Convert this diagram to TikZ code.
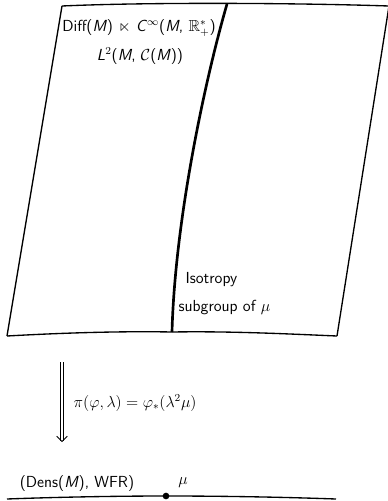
\documentclass[tikz,border=0pt]{standalone}
\usepackage{amssymb}
\usetikzlibrary{arrows.meta}
\newcommand{\sfit}[1]{\textsf{\itshape #1}}
\begin{document}
\begin{tikzpicture}[x=0.75pt,y=-0.75pt,
    lbl/.style={font=\sffamily\large, inner sep=1pt},
    edge/.style={line width=1pt},
    fibre/.style={line width=2pt},
    proj/.style={double, double distance=1.6pt, line width=0.6pt, -{Straight Barb[length=4pt,width=8pt]}}
]
\useasboundingbox (0,0) rectangle (388,501);

% the total space
\coordinate (tl) at (62,6);
\coordinate (tr) at (389,6);
\coordinate (bl) at (7,336);
\coordinate (br) at (337,336);
\coordinate (ftop) at (227,4);
\coordinate (fbot) at (172,332);
\draw[edge] (tl) .. controls (150,2) and (300,3) .. (tr);
\draw[edge] (tl) -- (bl);
\draw[edge] (tr) -- (br);
\draw[edge] (bl) .. controls (60,333) and (120,331) .. (fbot) .. controls (230,331) and (290,334) .. (br);
\draw[fibre] (ftop) .. controls (205,80) and (175,220) .. (fbot);

\node[lbl] (group) at (139,28) {Diff(\sfit{M}) $\ltimes$ \sfit{C}$^\infty$(\sfit{M}, $\mathbb{R}_+^*$)};
\node[lbl] (ltwo) at (140,56) {\sfit{L}$^2$(\sfit{M}, $\mathcal{C}$(\sfit{M}))};
\node[lbl, anchor=west] (iso) at (184,280) {Isotropy};
\node[lbl, anchor=west] (sub) at (177,308) {subgroup of $\mu$};

% the projection
\coordinate (ptop) at (62,362);
\coordinate (pbot) at (62,442);
\draw[proj] (ptop) -- (pbot);
\node[anchor=west, font=\large] (pi) at (69,403) {$\pi(\varphi,\lambda)=\varphi_*(\lambda^2\mu)$};

% the base
\coordinate (dl) at (7,499);
\coordinate (dr) at (336,499);
\node[circle, fill, inner sep=0pt, minimum size=5pt] (mu) at (166,496) {};
\draw[edge] (dl) .. controls (60,497) and (120,496) .. (mu.center) .. controls (220,496) and (280,497) .. (dr);
\node[lbl] (dens) at (77,484) {(Dens(\sfit{M}), WFR)};
\node[lbl] (mulbl) at (183,483) {$\mu$};
\end{tikzpicture}
\end{document}
